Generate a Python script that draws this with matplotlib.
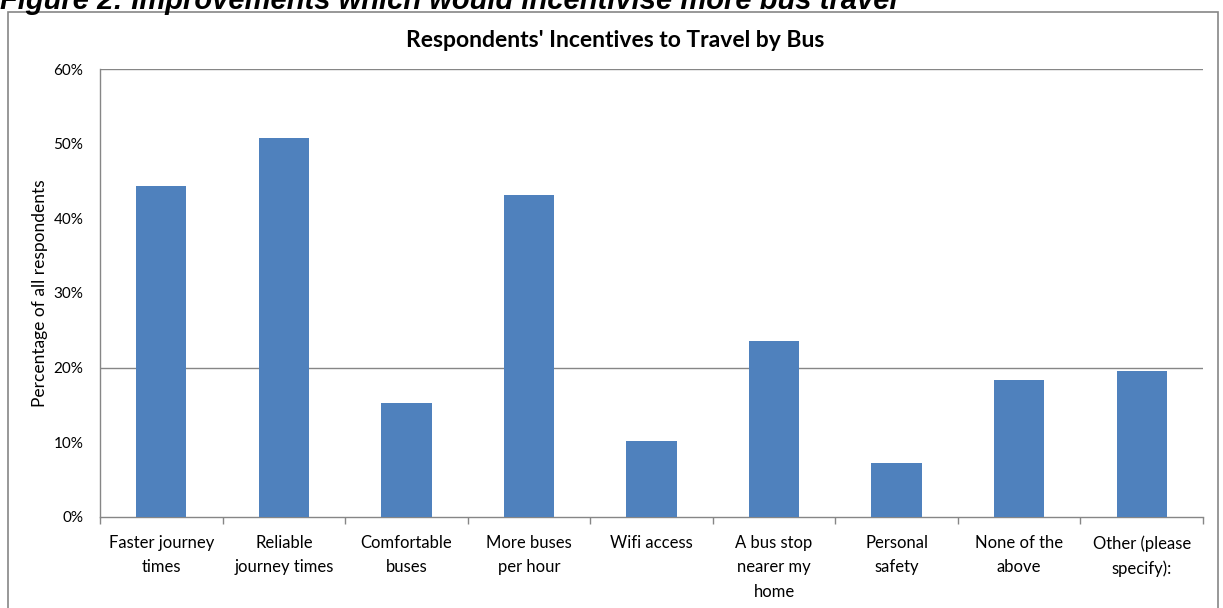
import matplotlib.pyplot as plt
from matplotlib.patches import Rectangle
from matplotlib.ticker import PercentFormatter
import numpy as np

plt.rcParams['font.family'] = ['Lato', 'DejaVu Sans']

categories = ["Faster journey\ntimes", "Reliable\njourney times", "Comfortable\nbuses",
              "More buses\nper hour", "Wifi access", "A bus stop\nnearer my\nhome",
              "Personal\nsafety", "None of the\nabove", "Other (please\nspecify):"]
values = [44.3, 50.8, 15.2, 43.1, 10.2, 23.6, 7.2, 18.4, 19.5]
y_ticks = [0, 10, 20, 30, 40, 50, 60]
grid_lines = [20, 60]

fig = plt.figure(figsize=(12.23, 6.08), dpi=100)
ax = fig.add_axes([0.0818, 0.1497, 0.9018, 0.7368])

x = np.arange(len(categories))
ax.bar(x, values, width=0.41, color="#4F81BD", zorder=3)

ax.set_xlim(-0.5, len(categories) - 0.5)
ax.set_ylim(0, 60)

# labels under each bar, separators between categories
ax.set_xticks(x)
ax.set_xticklabels(categories, fontsize=12, linespacing=1.65, va="top")
ax.tick_params(axis="x", which="major", length=0, pad=13)
ax.set_xticks(np.arange(-0.5, len(categories)), minor=True)
ax.tick_params(axis="x", which="minor", length=5, color="#868686", width=1)

ax.set_yticks(y_ticks)
ax.yaxis.set_major_formatter(PercentFormatter(decimals=0))
ax.tick_params(axis="y", which="major", length=0, pad=12, labelsize=11)
ax.set_yticks(grid_lines, minor=True)
ax.tick_params(axis="y", which="minor", length=4, color="#868686", width=1)
for g in grid_lines:
    ax.axhline(g, color="#868686", linewidth=1, zorder=1)

for s in ["top", "right"]:
    ax.spines[s].set_visible(False)
for s in ["left", "bottom"]:
    ax.spines[s].set_color("#868686")
    ax.spines[s].set_linewidth(1)

ax.set_ylabel("Percentage of all respondents", fontsize=12.5, labelpad=4)
ax.set_title("Respondents' Incentives to Travel by Bus", fontsize=16.5,
             fontweight="bold", pad=16, x=0.467)

# chart frame and cut-off figure caption
fig.patches.append(Rectangle((8 / 1223, -0.05), 1210 / 1223, 1.05 - 12 / 608,
                             transform=fig.transFigure, fill=False,
                             edgecolor="#868686", linewidth=1.2))
fig.text(0.0, 1 - 9 / 608, "Figure 2: Improvements which would incentivise more bus travel",
         fontsize=21, fontweight="bold", fontstyle="italic",
         family=["Liberation Sans", "DejaVu Sans"], va="baseline")

fig.savefig("out.png", dpi=100)
